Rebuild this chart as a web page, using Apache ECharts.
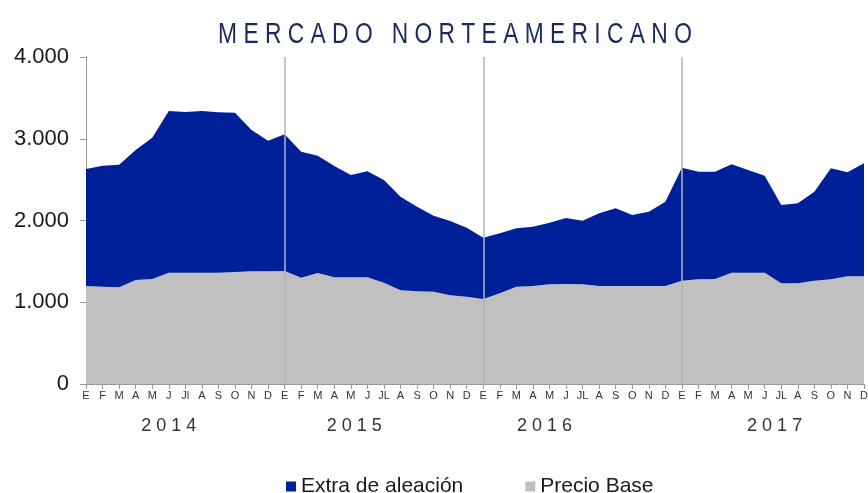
<!DOCTYPE html>
<html>
<head>
<meta charset="utf-8">
<script src="https://cdn.jsdelivr.net/npm/echarts@6/dist/echarts.min.js"></script>
<style>
  html, body { margin: 0; padding: 0; background: #fff; }
  #chart { width: 868px; height: 493px; }
</style>
</head>
<body>
<div id="chart"></div>
<script>
const monthLabels = [
  'E','F','M','A','M','J','Jl','A','S','O','N','D',
  'E','F','M','A','M','J','JL','A','S','O','N','D',
  'E','F','M','A','M','J','JL','A','S','O','N','D',
  'E','F','M','A','M','J','JL','A','S','O','N','D'
];
const yearLabels = ['2 0 1 4', '2 0 1 5', '2 0 1 6', '2 0 1 7'];
const yearAt = [5, 16.2, 27.7, 41.6];
const yearStarts = [12, 24, 36];

const precioBase = [
  1199, 1190, 1183, 1272, 1284, 1362, 1362, 1362, 1362, 1370, 1378, 1378,
  1382, 1300, 1358, 1305, 1305, 1305, 1239, 1146, 1134, 1129, 1085, 1068,
  1040, 1109, 1190, 1199, 1219, 1223, 1219, 1199, 1199, 1199, 1199, 1199,
  1264, 1280, 1284, 1362, 1362, 1362, 1231, 1231, 1264, 1280, 1317, 1317
];
const extraAleacion = [
  1431, 1480, 1500, 1590, 1729, 1978, 1965, 1978, 1961, 1949, 1729, 1598,
  1672, 1542, 1435, 1362, 1252, 1297, 1256, 1145, 1035, 930, 909, 844,
  750, 734, 714, 725, 754, 807, 779, 889, 950, 868, 909, 1031,
  1382, 1317, 1313, 1325, 1256, 1186, 959, 979, 1088, 1358, 1273, 1383
];

const chart = echarts.init(document.getElementById('chart'));

const fmt = (v) => v === 0 ? '0' : String(v).replace(/\B(?=(\d{3})+(?!\d))/g, '.');

const option = {
  animation: false,
  graphic: [{
    type: 'text',
    x: 455,
    y: 35,
    scaleX: 0.76,
    style: {
      text: 'M E R C A D O   N O R T E A M E R I C A N O',
      font: '30px "Liberation Sans", Arial, sans-serif',
      fill: '#1b2a5c',
      textAlign: 'center',
      textVerticalAlign: 'middle'
    }
  }],
  legend: {
    data: ['Extra de aleación', 'Precio Base'],
    left: 281,
    top: 471,
    icon: 'rect',
    itemWidth: 10,
    itemHeight: 10,
    itemGap: 62,
    textStyle: {
      fontSize: 21,
      color: '#1a1a1a',
      fontFamily: '"Liberation Sans", Arial, sans-serif'
    }
  },
  grid: {
    left: 86,
    right: 4,
    top: 57,
    bottom: 109,
    outerBoundsMode: 'none'
  },
  xAxis: [
    {
      type: 'category',
      boundaryGap: false,
      data: monthLabels,
      axisLine: { lineStyle: { color: '#999', width: 1 } },
      axisTick: { show: true, interval: 0, length: 5, lineStyle: { color: '#999' } },
      axisLabel: {
        interval: 0,
        margin: 6,
        fontSize: 11,
        color: '#333',
        fontFamily: '"Liberation Sans", Arial, sans-serif'
      },
      splitLine: { show: false }
    },
    {
      type: 'value',
      position: 'bottom',
      min: 0,
      max: monthLabels.length - 1,
      axisLine: { show: false },
      axisTick: { show: false },
      splitLine: { show: false },
      axisLabel: {
        customValues: yearAt,
        formatter: (v) => yearLabels[yearAt.indexOf(v)] || '',
        margin: 33,
        fontSize: 18,
        color: '#333',
        fontFamily: '"Liberation Sans", Arial, sans-serif'
      }
    }
  ],
  yAxis: {
    type: 'value',
    min: 0,
    max: 4000,
    interval: 1000,
    axisLine: { show: true, lineStyle: { color: '#999', width: 1 } },
    axisTick: { show: true, length: 6, lineStyle: { color: '#999' } },
    axisLabel: {
      formatter: fmt,
      margin: 17,
      fontSize: 22,
      color: '#1a1a1a',
      fontFamily: '"Liberation Sans", Arial, sans-serif'
    },
    splitLine: { show: false }
  },
  series: [
    {
      name: 'Precio Base',
      type: 'line',
      stack: 'total',
      data: precioBase,
      showSymbol: false,
      symbol: 'none',
      lineStyle: { width: 0 },
      areaStyle: { color: '#c0c0c0', opacity: 1 },
      itemStyle: { color: '#c0c0c0' }
    },
    {
      name: 'Extra de aleación',
      type: 'line',
      stack: 'total',
      data: extraAleacion,
      showSymbol: false,
      symbol: 'none',
      lineStyle: { width: 0 },
      areaStyle: { color: '#00209a', opacity: 1 },
      itemStyle: { color: '#00209a' },
      markLine: {
        silent: true,
        symbol: 'none',
        label: { show: false },
        lineStyle: { color: '#b4b4b4', width: 1.5, type: 'solid' },
        data: yearStarts.map((i) => ({ xAxis: i }))
      }
    }
  ]
};

chart.setOption(option);
</script>
</body>
</html>
